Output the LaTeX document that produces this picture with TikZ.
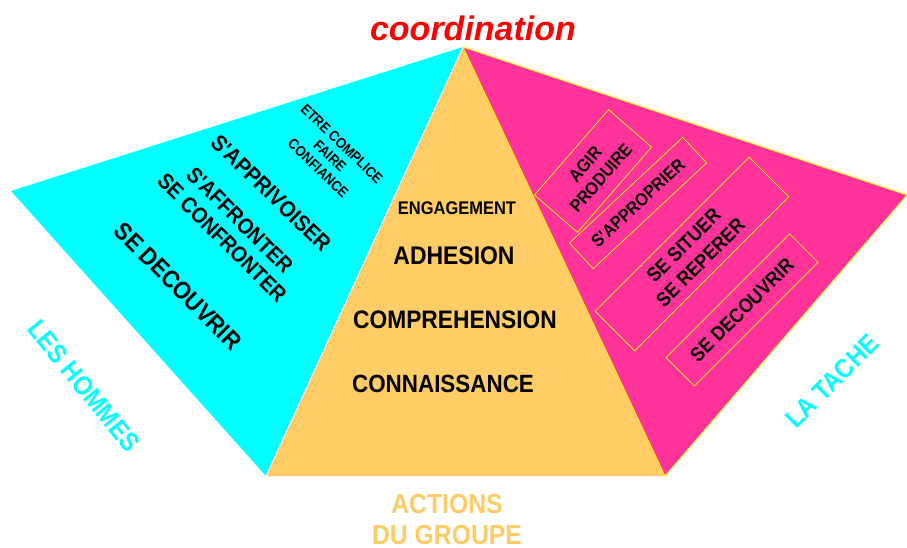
\documentclass[tikz,border=0pt]{standalone}
\usepackage{fontspec}
\setmainfont{Liberation Sans}
\newfontfamily\tallsans{Liberation Sans}[FakeStretch=0.9]
\definecolor{cyanA}{HTML}{00FFFF}
\definecolor{orangeA}{HTML}{FFCC66}
\definecolor{pinkA}{HTML}{FF3399}
\definecolor{redA}{HTML}{FF0000}
\definecolor{yellowA}{HTML}{FFFF00}
\newcommand{\fsz}[2]{\fontsize{#1}{#2}\selectfont}
\begin{document}
\begin{tikzpicture}[x=1pt,y=-1pt,
  lbl/.style={inner sep=0pt, align=center},
  pinkbox/.style={draw=yellowA, line width=0.7pt, inner sep=0pt, align=center},
]
\useasboundingbox (0,0) rectangle (907,548);
\fill[white] (0,0) rectangle (907,548);
\coordinate (apex) at (463,47);
\coordinate (L) at (11,191);
\coordinate (BL) at (266,476);
\coordinate (BR) at (665,476);
\coordinate (R) at (907,195);
\fill[cyanA] (apex) -- (L) -- (BL) -- cycle;
\fill[orangeA] (apex) -- (BL) -- (BR) -- cycle;
\draw[white, line width=1pt] (apex) -- (BL);
\filldraw[fill=pinkA, draw=yellowA, line width=0.8pt, line join=round] (apex) -- (BR) -- (R) -- cycle;

% title
\node[lbl, text=redA, font=\bfseries\itshape\fsz{34}{40}] (coord) at (473,28) {coordination};

% left (cyan) texts
\node[lbl, font=\tallsans\bfseries\fsz{14.5}{17}, rotate=-44] (complice) at (330,156) {ETRE COMPLICE\\FAIRE\\CONFIANCE};
\node[lbl, font=\tallsans\bfseries\fsz{22.5}{24}, rotate=-44] (apprivoiser) at (271,193) {S'APPRIVOISER};
\node[lbl, font=\tallsans\bfseries\fsz{22}{25}, rotate=-45] (affronter) at (231,229) {S'AFFRONTER\\SE CONFRONTER};
\node[lbl, font=\tallsans\bfseries\fsz{24.5}{26}, rotate=-45] (decouvrirL) at (178,286) {SE DECOUVRIR};
\node[lbl, text=cyanA, font=\tallsans\bfseries\fsz{26.5}{28}, rotate=-51] (hommes) at (84,386) {LES HOMMES};

% centre texts
\node[lbl, font=\tallsans\bfseries\fsz{18.3}{20}] (engagement) at (457,208) {ENGAGEMENT};
\node[lbl, font=\tallsans\bfseries\fsz{25.5}{27}] (adhesion) at (454,256) {ADHESION};
\node[lbl, font=\tallsans\bfseries\fsz{25.3}{27}] (comprehension) at (455,320) {COMPREHENSION};
\node[lbl, font=\tallsans\bfseries\fsz{24.9}{27}] (connaissance) at (443,384) {CONNAISSANCE};
\node[lbl, text=orangeA, font=\tallsans\bfseries\fsz{27.5}{31}] (actions) at (447,520) {ACTIONS\\DU GROUPE};

% right (pink) boxes
\node[pinkbox, font=\tallsans\bfseries\fsz{17.8}{21}, minimum width=113pt, minimum height=57pt, rotate=49] (agir) at (593,171) {AGIR\\PRODUIRE};
\node[pinkbox, font=\tallsans\bfseries\fsz{17.8}{20}, minimum width=155pt, minimum height=35pt, rotate=43] (approprier) at (638,203) {S'APPROPRIER};
\node[pinkbox, font=\tallsans\bfseries\fsz{20}{24}, minimum width=218pt, minimum height=56pt, rotate=45] (situer) at (692,254) {SE SITUER\\SE REPERER};
\node[pinkbox, font=\tallsans\bfseries\fsz{20}{22}, minimum width=175pt, minimum height=40pt, rotate=45] (decouvrirR) at (742,310) {SE DECOUVRIR};
\node[lbl, text=cyanA, font=\tallsans\bfseries\fsz{26.5}{28}, rotate=45] (tache) at (832,381) {LA TACHE};
\end{tikzpicture}
\end{document}
